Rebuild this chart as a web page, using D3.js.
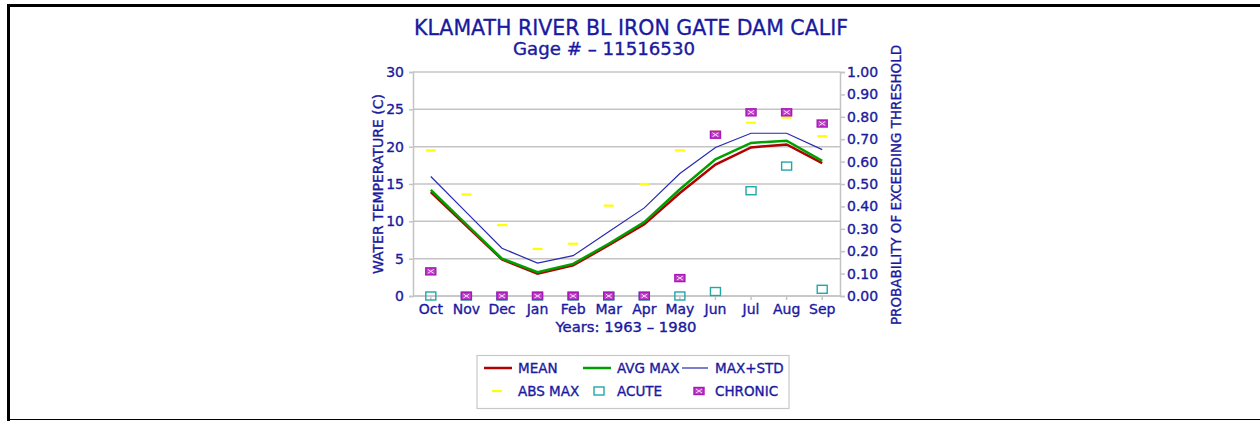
<!DOCTYPE html>
<html><head><meta charset="utf-8">
<script src="https://cdn.jsdelivr.net/npm/d3@7"></script>
<style>body{margin:0;background:#fff}svg{display:block}text{font-family:"DejaVu Sans",sans-serif;fill:#1a1aa0;stroke:#1a1aa0;stroke-width:0.35px}</style>
</head><body>
<svg id="c" width="1260" height="421"></svg>
<script>
const months = ["Oct","Nov","Dec","Jan","Feb","Mar","Apr","May","Jun","Jul","Aug","Sep"];
const meanT   = [13.9, 9.4, 4.9, 3.0, 4.1, 6.8, 9.6, 13.8, 17.6, 19.9, 20.3, 17.8];
const avgMax  = [14.2, 9.6, 5.0, 3.2, 4.3, 7.0, 9.9, 14.3, 18.3, 20.5, 20.8, 18.1];
const maxStd  = [16.0, 11.2, 6.4, 4.4, 5.4, 8.6, 11.8, 16.4, 19.9, 21.8, 21.8, 19.6];
const absMax  = [19.5, 13.6, 9.5, 6.3, 7.0, 12.1, 15.0, 19.5, 22.0, 23.2, 23.9, 21.4];
const acute   = [0, 0, 0, 0, 0, 0, 0, 0, 0.02, 0.47, 0.58, 0.03];
const chronic = [0.11, 0, 0, 0, 0, 0, 0, 0.08, 0.72, 0.82, 0.82, 0.77];
const tempTicks = [0,5,10,15,20,25,30];
const probTicks = [0,0.1,0.2,0.3,0.4,0.5,0.6,0.7,0.8,0.9,1.0];
const titleText = "KLAMATH RIVER BL IRON GATE DAM CALIF";
const subtitleText = "Gage # \u2013 11516530";
const xTitle = "Years: 1963 \u2013 1980";
const yTitle = "WATER TEMPERATURE (C)";
const y2Title = "PROBABILITY OF EXCEEDING THRESHOLD";
const legendItems = [
  {name:"MEAN", type:"line", color:"#b00000", w:2.5},
  {name:"AVG MAX", type:"line", color:"#00a000", w:2.5},
  {name:"MAX+STD", type:"line", color:"#2828b0", w:1.2},
  {name:"ABS MAX", type:"abs"},
  {name:"ACUTE", type:"acute"},
  {name:"CHRONIC", type:"chronic"}
];

const svg = d3.select("#c");
const txt = "#1a1aa0", grid = "#c4c4c4";
svg.append("rect").attr("width",1260).attr("height",421).attr("fill","#fff");
// frame
svg.append("line").attr("x1",7).attr("x2",1260).attr("y1",5.5).attr("y2",5.5).attr("stroke","#000").attr("stroke-width",3);
svg.append("line").attr("x1",8.5).attr("x2",8.5).attr("y1",4).attr("y2",421).attr("stroke","#000").attr("stroke-width",3);
svg.append("line").attr("x1",8).attr("x2",1260).attr("y1",419.5).attr("y2",419.5).attr("stroke","#000").attr("stroke-width",1);

const L=413, R=840, T=72, B=296;
const x = d3.scaleBand().domain(months).range([L,R]).padding(0);
const cx = m => x(m)+x.bandwidth()/2;
const y = d3.scaleLinear().domain([0,30]).range([B,T]);
const yp = d3.scaleLinear().domain([0,1]).range([B,T]);

// gridlines
svg.append("g").selectAll("line").data(tempTicks).join("line")
  .attr("x1",L).attr("x2",R).attr("y1",d=>y(d)).attr("y2",d=>y(d))
  .attr("stroke",grid).attr("stroke-width",1.5);

// axes
const gl = svg.append("g").attr("transform",`translate(${L},0)`)
  .call(d3.axisLeft(y).tickValues(tempTicks).tickSize(4).tickPadding(5).tickFormat(d3.format("d")));
const gr = svg.append("g").attr("transform",`translate(${R},0)`)
  .call(d3.axisRight(yp).tickValues(probTicks).tickSize(5).tickPadding(2).tickFormat(d3.format(".2f")));
const gb = svg.append("g").attr("transform",`translate(0,${B})`)
  .call(d3.axisBottom(x).tickSize(4).tickPadding(4));
[gl,gr,gb].forEach(g=>{
  g.select(".domain").attr("stroke",grid).attr("stroke-width",1.5);
  g.selectAll(".tick line").attr("stroke",grid).attr("stroke-width",1.5);
  g.selectAll(".tick text").attr("fill",txt).attr("stroke",txt).attr("stroke-width",0.35)
    .style("font-size","14px").style("font-family","DejaVu Sans");
});
gb.select(".domain").remove();
svg.append("line").attr("x1",L).attr("x2",R).attr("y1",B).attr("y2",B).attr("stroke",grid).attr("stroke-width",1.5);

// titles
svg.append("text").attr("x",631).attr("y",35).attr("text-anchor","middle")
  .attr("textLength",434).attr("lengthAdjust","spacingAndGlyphs").style("font-size","22px").text(titleText);
svg.append("text").attr("x",604).attr("y",55).attr("text-anchor","middle")
  .attr("textLength",182).attr("lengthAdjust","spacingAndGlyphs").style("font-size","17px").text(subtitleText);
svg.append("text").attr("x",626).attr("y",332).attr("text-anchor","middle")
  .attr("textLength",141).attr("lengthAdjust","spacingAndGlyphs").style("font-size","14px").text(xTitle);
svg.append("text").attr("transform","translate(383,184) rotate(-90)").attr("text-anchor","middle")
  .attr("textLength",180).attr("lengthAdjust","spacingAndGlyphs").style("font-size","14px").text(yTitle);
svg.append("text").attr("transform","translate(901,185) rotate(-90)").attr("text-anchor","middle")
  .attr("textLength",280).attr("lengthAdjust","spacingAndGlyphs").style("font-size","14px").text(y2Title);

// lines
const line = d3.line().x((d,i)=>cx(months[i])).y(d=>y(d));
[[maxStd,"#2828b0",1.2],[meanT,"#b00000",2.5],[avgMax,"#00a000",2.5]].forEach(([arr,c,w])=>{
  svg.append("path").datum(arr).attr("d",line).attr("fill","none").attr("stroke",c).attr("stroke-width",w);
});

// markers
function absMark(g,px,py){ g.append("line").attr("x1",px-5).attr("x2",px+5).attr("y1",py).attr("y2",py).attr("stroke","#ffff00").attr("stroke-width",2.2); }
function acuteMark(g,px,py){ g.append("rect").attr("x",px-5).attr("y",py-4).attr("width",10).attr("height",8).attr("fill","none").attr("stroke","#20a8a8").attr("stroke-width",1.4); }
function chronicMark(g,px,py){
  g.append("rect").attr("x",px-5).attr("y",py-3.5).attr("width",10).attr("height",7).attr("fill","#c040c8").attr("stroke","#a818b8").attr("stroke-width",1.4);
  g.append("path").attr("d",`M${px-3},${py-2}L${px+3},${py+2}M${px+3},${py-2}L${px-3},${py+2}`).attr("stroke","#f8e0f8").attr("stroke-width",1);
}
const mg = svg.append("g");
absMax.forEach((v,i)=>absMark(mg,cx(months[i]),y(v)));
acute.forEach((v,i)=>acuteMark(mg,cx(months[i]),yp(v)));
chronic.forEach((v,i)=>{ if(v>0 || i>0) chronicMark(mg,cx(months[i]),yp(v)); });

// legend
const lg = svg.append("g");
lg.append("rect").attr("x",477).attr("y",355.5).attr("width",312).attr("height",53).attr("fill","#fff").attr("stroke","#c8c8c8").attr("stroke-width",1.2);
const colX = [484,583,682], textX=[518,617,715], rowY=[368,391];
legendItems.forEach((it,i)=>{
  const c=i%3, r=Math.floor(i/3);
  const ly=rowY[r];
  if(it.type==="line"){
    lg.append("line").attr("x1",colX[c]).attr("x2",colX[c]+(c===2?26:28)).attr("y1",ly).attr("y2",ly).attr("stroke",it.color).attr("stroke-width",it.w);
  } else if(it.type==="abs") absMark(lg,497,ly);
  else if(it.type==="acute") acuteMark(lg,599,ly);
  else chronicMark(lg,699,ly);
  lg.append("text").attr("x",textX[c]).attr("y",ly+5).style("font-size","13.5px").text(it.name);
});
</script>
</body></html>
